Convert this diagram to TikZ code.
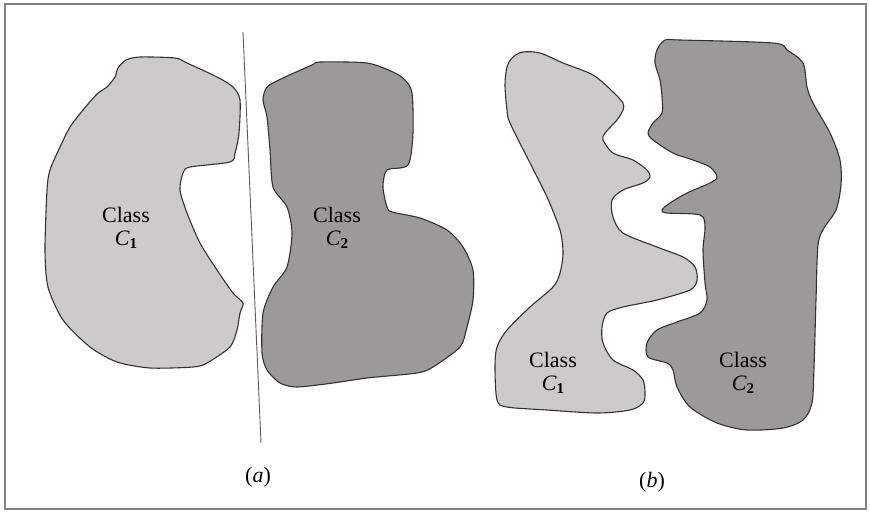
\documentclass[tikz,border=0pt]{standalone}
\usepackage{fontspec}
\setmainfont{Liberation Serif}
\definecolor{lightcls}{RGB}{204,202,202}
\definecolor{darkcls}{RGB}{155,153,153}
\definecolor{edge}{RGB}{50,50,50}
\definecolor{framec}{RGB}{130,130,130}
\newcommand{\cls}[1]{\textit{C}\raisebox{-0.35ex}{\fontsize{15}{15}\selectfont\textbf{#1}}}
\tikzset{
  blob/.style={draw=edge, line width=1.1pt, line join=round},
  lbl/.style={font=\fontsize{22}{25}\selectfont, align=center, inner sep=0pt},
  captxt/.style={font=\fontsize{22}{25}\selectfont, inner sep=0pt}
}
\begin{document}
\begin{tikzpicture}[x=1pt,y=-1pt]
\useasboundingbox (0,0) rectangle (870,512);
\draw[framec, line width=1.4pt] (5,4) rectangle (866,509);

% (a) class C1
\draw[blob, fill=lightcls] plot[smooth cycle, tension=0.45] coordinates {
 (115,77) (118,68) (126,60) (140,57) (175,58) (187,63) (217,77) (233,87)
 (240,100) (239,133) (235,153) (230,162) (190,167) (183,173) (180,190)
 (187,213) (200,243) (217,270) (233,293) (243,303) (240,313) (237,330)
 (230,347) (207,363) (193,367) (150,368) (117,362) (90,347) (63,320)
 (48,287) (45,250) (47,190) (50,170) (60,147) (70,127) (83,110) (97,94)
 (107,87)};

% (a) class C2
\draw[blob, fill=darkcls] plot[smooth cycle, tension=0.45] coordinates {
 (267,87) (283,78) (312,65) (320,62) (367,63) (393,72) (405,80) (412,93)
 (413,133) (408,165) (387,170) (383,187) (387,207) (392,212) (420,218)
 (447,230) (463,247) (473,270) (473,300) (467,327) (460,347) (433,367)
 (417,373) (367,378) (333,383) (297,387) (280,383) (267,370) (262,353)
 (263,313) (273,287) (287,267) (292,233) (287,207) (273,187) (270,150)
 (267,117) (263,100)};

% separating line
\coordinate (sepA) at (243,32);
\coordinate (sepB) at (261,443);
\draw[edge!80, line width=0.9pt] (sepA) -- (sepB);

% (b) class C1
\draw[blob, fill=lightcls] plot[smooth cycle, tension=0.5] coordinates {
 (507,67) (513,57) (523,52) (540,53) (563,63) (593,75) (613,92) (623,103)
 (623,110) (617,120) (605,133) (603,140) (613,153) (633,160) (647,170)
 (650,177) (643,183) (623,190) (612,200) (613,217) (623,233) (657,247)
 (683,257) (695,267) (697,280) (690,290) (657,300) (623,307) (607,313)
 (602,327) (603,343) (613,360) (633,370) (643,380) (645,393) (643,403)
 (630,410) (597,413) (547,410) (507,407) (497,400) (495,367) (497,347)
 (507,330) (530,307) (553,287) (560,273) (563,253) (560,230) (547,197)
 (530,163) (510,123) (507,110) (505,85)};

% (b) class C2
\draw[blob, fill=darkcls] plot[smooth cycle, tension=0.5] coordinates {
 (665,40) (680,40) (773,43) (787,50) (803,63) (807,87) (813,103) (830,133)
 (840,160) (841,185) (836,210) (824,228) (818,245) (816,300) (814,367)
 (812,403) (803,420) (783,428) (747,430) (717,423) (690,407) (677,387)
 (673,370) (667,363) (648,357) (647,343) (657,330) (677,322) (700,313)
 (707,300) (705,283) (703,250) (705,227) (700,215) (667,213) (662,210)
 (670,203) (687,193) (710,183) (717,177) (710,167) (693,160) (673,153)
 (653,140) (648,133) (653,123) (662,113) (662,97) (660,80) (655,63)
 (657,50)};

% labels
\node[lbl] (a1) at (126,228) {Class\\[-2pt]\cls{1}};
\node[lbl] (a2) at (337,228) {Class\\[-2pt]\cls{2}};
\node[lbl] (b1) at (553,373) {Class\\[-2pt]\cls{1}};
\node[lbl] (b2) at (743,373) {Class\\[-2pt]\cls{2}};
\node[captxt] (capa) at (258,477) {(\textit{a})};
\node[captxt] (capb) at (652,482) {(\textit{b})};
\end{tikzpicture}
\end{document}
